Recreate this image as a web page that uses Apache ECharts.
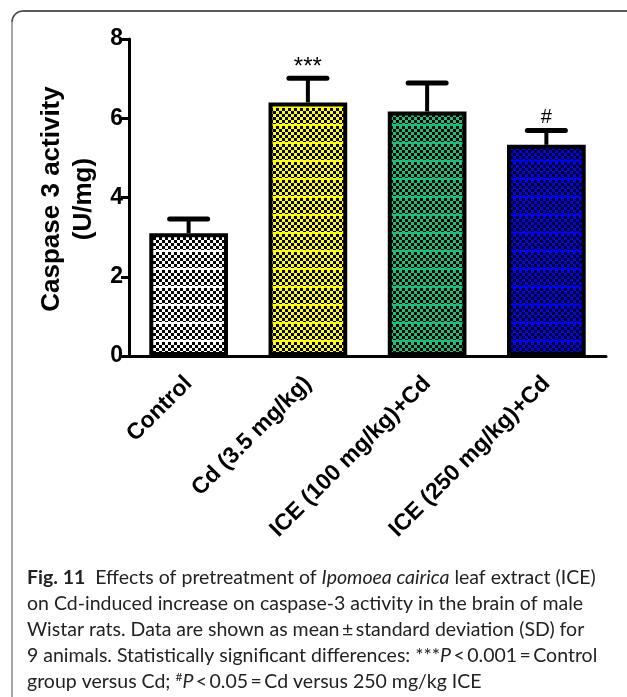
<!DOCTYPE html>
<html>
<head>
<meta charset="utf-8">
<script src="https://cdn.jsdelivr.net/npm/echarts@6/dist/echarts.min.js"></script>
<style>
  html, body { margin: 0; padding: 0; background: #fff; }
  #chart { width: 627px; height: 697px; }
</style>
</head>
<body>
<div id="chart"></div>
<script>
// Caspase-3 activity per treatment group (mean and SD, U/mg)
const categories = ['Control', 'Cd (3.5 mg/kg)', 'ICE (100 mg/kg)+Cd', 'ICE (250 mg/kg)+Cd'];
const meanValues = [3.10, 6.40, 6.17, 5.33];
const sdValues = [0.36, 0.61, 0.72, 0.36];
const sigMarks = ['', '***', '', '#'];
const yTicks = [0, 2, 4, 6, 8];
const fillColors = ['#ffffff', '#ffff00', '#17c07c', '#0000ff'];

// Checkered fill with a thin horizontal rule every few rows
function checkerTile(color) {
  const c = document.createElement('canvas');
  c.width = 6; c.height = 18;
  const g = c.getContext('2d');
  g.fillStyle = color; g.fillRect(0, 0, 6, 18);
  g.fillStyle = '#000';
  for (let y = 0; y < 18; y += 3) {
    for (let x = 0; x < 6; x += 3) {
      if (((x + y) / 3) % 2 === 0) g.fillRect(x, y, 3, 3);
    }
  }
  g.fillStyle = color; g.fillRect(0, 16, 6, 2);
  return c;
}

const chart = echarts.init(document.getElementById('chart'), null, { renderer: 'canvas' });
const FONT = '"Liberation Sans", Arial, sans-serif';
const CAP_FONT = 'Lato, "Open Sans", sans-serif';
const CAP_SIZE = 19.5;

const barData = meanValues.map((v, i) => ({
  value: v,
  itemStyle: { color: { image: checkerTile(fillColors[i]), repeat: 'repeat' } }
}));
const errData = meanValues.map((v, i) => [i, v, sdValues[i]]);

const capLines = [
  '{b|Fig. 11}  Effects of pretreatment of {i|Ipomoea cairica} leaf extract (ICE)',
  'on Cd-induced increase on caspase-3 activity in the brain of male',
  'Wistar rats. Data are shown as mean\u2009\u00b1\u2009standard deviation (SD) for',
  '9 animals. Statistically significant differences: ***{i|P}\u2009<\u20090.001\u2009=\u2009Control',
  'group versus Cd; {s|#}{i|P}\u2009<\u20090.05\u2009=\u2009Cd versus 250 mg/kg ICE'
];
const capRich = {
  b: { fontFamily: CAP_FONT, fontWeight: 'bold', fontSize: CAP_SIZE, color: '#222' },
  i: { fontFamily: CAP_FONT, fontStyle: 'italic', fontSize: CAP_SIZE, color: '#222' },
  s: { fontFamily: CAP_FONT, fontSize: 12, color: '#222', verticalAlign: 'top', padding: [0, 0, 9, 0] }
};

const graphics = [
  { type: 'line', shape: { x1: 12, y1: 22, x2: 12, y2: 697 }, style: { stroke: '#888', lineWidth: 1.5 }, silent: true },
  { type: 'arc', shape: { cx: 23, cy: 22, r: 11, startAngle: Math.PI, endAngle: Math.PI * 1.5 },
    style: { stroke: '#444', lineWidth: 1.5, fill: null }, silent: true },
  { type: 'line', shape: { x1: 23, y1: 11, x2: 627, y2: 11 }, style: { stroke: '#222', lineWidth: 1.5 }, silent: true },
  {
    type: 'text', x: 68, y: 199, rotation: Math.PI / 2,
    style: {
      text: 'Caspase 3 activity\n(U/mg)', fontFamily: FONT, fontWeight: 'bold', fontSize: 26,
      lineHeight: 32, align: 'center', verticalAlign: 'middle', fill: '#000'
    }
  }
];
capLines.forEach((t, k) => {
  graphics.push({
    type: 'text', x: 27, y: 577.5 + k * 26,
    style: {
      text: t, rich: capRich, fontFamily: CAP_FONT, fontSize: CAP_SIZE, fill: '#222',
      align: 'left', verticalAlign: 'middle'
    }
  });
});

chart.setOption({
  animation: false,
  backgroundColor: '#fff',
  grid: { left: 129, right: 21, top: 39, bottom: 341, containLabel: false },
  xAxis: {
    type: 'category',
    data: categories,
    axisLine: { lineStyle: { color: '#000', width: 3 } },
    axisTick: { alignWithLabel: true, length: 9, lineStyle: { color: '#000', width: 3 } },
    axisLabel: {
      interval: 0, rotate: 45, margin: 24, padding: [14, 0, 0, 0], color: '#000',
      fontFamily: FONT, fontWeight: 'bold', fontSize: 23
    }
  },
  yAxis: {
    type: 'value', min: 0, max: 8, interval: 2,
    splitLine: { show: false },
    axisLine: { show: true, lineStyle: { color: '#000', width: 3 } },
    axisTick: { show: true, length: 8, lineStyle: { color: '#000', width: 3 } },
    axisLabel: {
      margin: 6, color: '#000', fontFamily: FONT, fontWeight: 'bold', fontSize: 23,
      formatter: v => (yTicks.indexOf(v) >= 0 ? String(v) : '')
    }
  },
  series: [
    {
      type: 'bar',
      data: barData,
      barWidth: '66%',
      itemStyle: { borderColor: '#000', borderWidth: 4 },
      z: 2
    },
    {
      type: 'custom',
      data: errData,
      z: 3,
      renderItem: function (params, api) {
        const i = api.value(0);
        const base = api.coord([i, api.value(1)]);
        const top = api.coord([i, api.value(1) + api.value(2)]);
        const half = 19;
        const children = [
          { type: 'line', shape: { x1: base[0], y1: base[1], x2: top[0], y2: top[1] },
            style: { stroke: '#000', lineWidth: 4 } },
          { type: 'line', shape: { x1: top[0] - half, y1: top[1], x2: top[0] + half, y2: top[1] },
            style: { stroke: '#000', lineWidth: 5, lineCap: 'round' } }
        ];
        const mark = sigMarks[params.dataIndex];
        if (mark) {
          const isHash = mark === '#';
          children.push({
            type: 'text', x: top[0], y: top[1] + (isHash ? -3 : 1),
            style: {
              text: mark, fontFamily: FONT, fontSize: isHash ? 20 : 24,
              align: 'center', verticalAlign: 'bottom', fill: '#000'
            }
          });
        }
        return { type: 'group', children: children };
      }
    }
  ],
  graphic: graphics
});
</script>
</body>
</html>
